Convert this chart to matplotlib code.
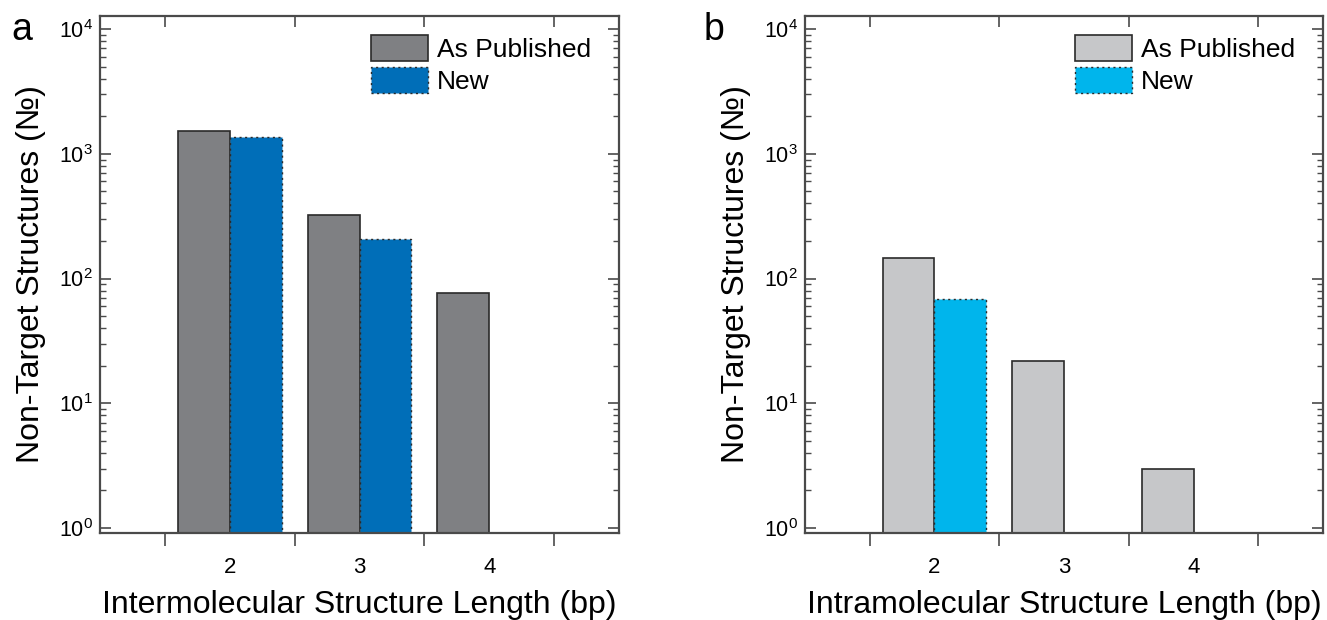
import matplotlib
matplotlib.use("Agg")
import matplotlib.pyplot as plt
from matplotlib.ticker import LogLocator, NullFormatter, FixedLocator, FixedFormatter

plt.rcParams['font.family'] = ['Liberation Sans', 'DejaVu Sans']

# Structure lengths (bp) and counts of non-target structures
lengths = [2, 3, 4]
inter_published = [1535, 325, 77]
inter_new = [1375, 206, None]
intra_published = [146, 22, 3]
intra_new = [68, None, None]

panel_letters = ['a', 'b']
xlabels = ['Intermolecular Structure Length (bp)', 'Intramolecular Structure Length (bp)']
ylabel = 'Non-Target Structures (\u2116)'
legend_labels = ['As Published', 'New']

colors_pub = ['#7f8083', '#c6c7c9']
colors_new = ['#006eb8', '#00b5ec']

YMIN, YMAX = 0.912, 1.28e4
W = 0.4
SPINE = '#4a4a4a'

fig = plt.figure(figsize=(13.27, 6.2), dpi=100)
axes = [fig.add_axes([0.0754, 0.1403, 0.3911, 0.8344]),
        fig.add_axes([0.6066, 0.1403, 0.3904, 0.8344])]
letter_x = [-0.170, -0.195]

data = [(inter_published, inter_new), (intra_published, intra_new)]

for i, ax in enumerate(axes):
    pub, new = data[i]
    xs_p = [x - W / 2 for x, v in zip(lengths, pub) if v is not None]
    vs_p = [v for v in pub if v is not None]
    xs_n = [x + W / 2 for x, v in zip(lengths, new) if v is not None]
    vs_n = [v for v in new if v is not None]
    ax.bar(xs_p, [v - YMIN for v in vs_p], width=W, bottom=YMIN,
           color=colors_pub[i], edgecolor='#2a2a2a', linewidth=1.2,
           label=legend_labels[0], zorder=2)
    ax.bar(xs_n, [v - YMIN for v in vs_n], width=W, bottom=YMIN,
           color=colors_new[i], edgecolor='#2a2a2a', linewidth=1.0,
           linestyle=(0, (1.5, 2.5)), label=legend_labels[1], zorder=2)

    ax.set_yscale('log')
    ax.set_ylim(YMIN, YMAX)
    ax.set_xlim(1, 5)

    # y ticks: inward on both sides
    ax.yaxis.set_major_locator(LogLocator(base=10, numticks=10))
    ax.yaxis.set_minor_locator(LogLocator(base=10, subs=range(2, 10), numticks=20))
    ax.yaxis.set_minor_formatter(NullFormatter())
    ax.tick_params(axis='y', which='major', direction='in', length=8, width=1.2,
                   left=True, right=True, labelsize=15.5, color=SPINE, pad=5)
    ax.tick_params(axis='y', which='minor', direction='in', length=4, width=1.0,
                   left=True, right=True, color=SPINE)

    # x: boundary ticks at half-integers, labels at category centres
    ax.xaxis.set_major_locator(FixedLocator([1.5, 2.5, 3.5, 4.5]))
    ax.xaxis.set_major_formatter(NullFormatter())
    ax.xaxis.set_minor_locator(FixedLocator(lengths))
    ax.xaxis.set_minor_formatter(FixedFormatter([str(v) for v in lengths]))
    ax.tick_params(axis='x', which='major', direction='out', length=9, width=1.2,
                   bottom=True, top=False, color=SPINE)
    ax.tick_params(axis='x', which='minor', length=0, labelsize=16, pad=17)

    # inward top ticks at the same boundaries
    top = ax.secondary_xaxis('top')
    top.set_xticks([1.5, 2.5, 3.5, 4.5])
    top.set_xticklabels([])
    top.tick_params(direction='in', length=8, width=1.2, color=SPINE)
    top.spines['top'].set_visible(False)

    for s in ax.spines.values():
        s.set_color(SPINE)
        s.set_linewidth(1.6)

    ax.set_xlabel(xlabels[i], fontsize=23)
    ax.set_ylabel(ylabel, fontsize=23)
    ax.xaxis.set_label_coords(0.5, -0.11)
    ax.yaxis.set_label_coords(-0.105, 0.5)

    ax.legend(loc='upper left', bbox_to_anchor=(0.522, 0.963), frameon=False,
              fontsize=19, handlelength=2.15, handleheight=1.15,
              handletextpad=0.35, labelspacing=0.18, borderpad=0, borderaxespad=0)

    ax.text(letter_x[i], 0.953, panel_letters[i], transform=ax.transAxes,
            fontsize=27, ha='left', va='baseline')

fig.savefig('out.png', dpi=100)
